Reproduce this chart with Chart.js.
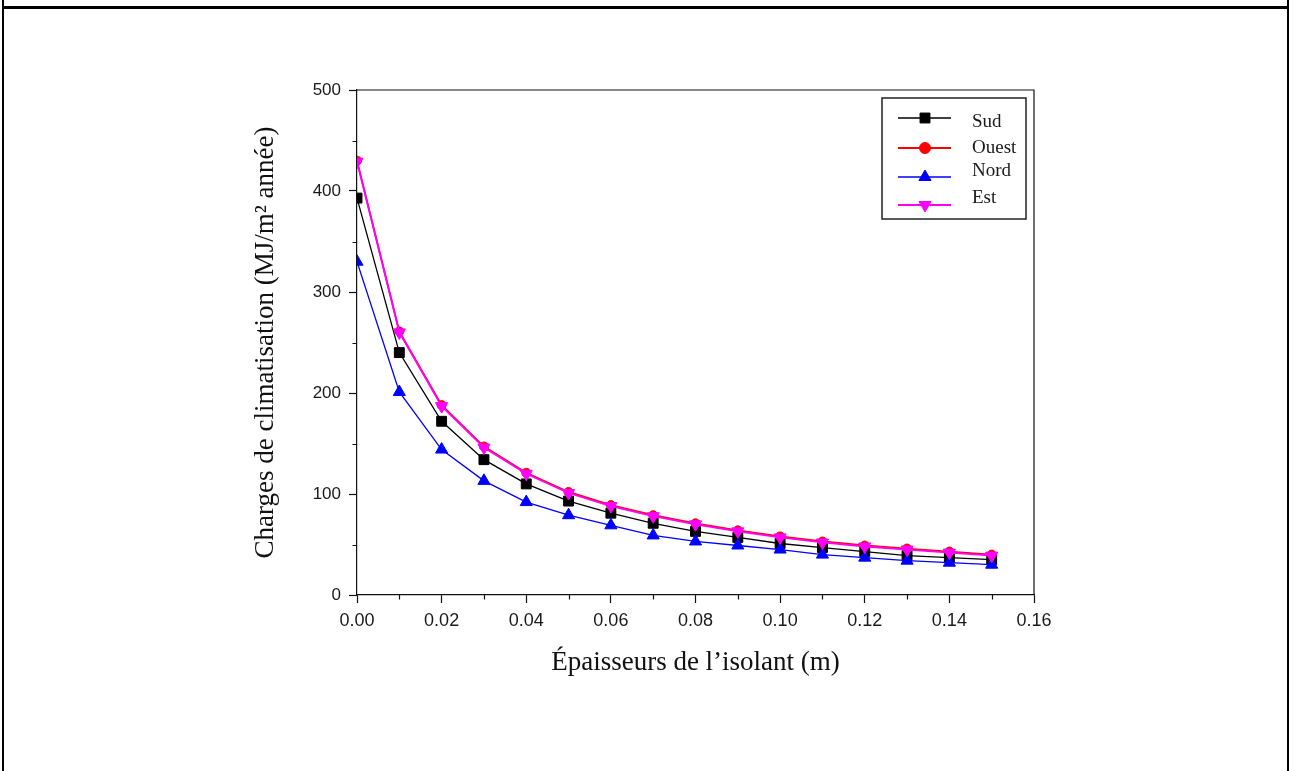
<!DOCTYPE html>
<html>
<head>
<meta charset="utf-8">
<script src="https://cdn.jsdelivr.net/npm/chart.js@4/dist/chart.umd.min.js"></script>
<style>
  html, body { margin: 0; padding: 0; background: #fff; }
  body { width: 1295px; height: 771px; position: relative; overflow: hidden; }
  #wrap { position: absolute; left: 0; top: 0; width: 1295px; height: 771px; }
  .rule { position: absolute; background: #000; }
</style>
</head>
<body>
<div class="rule" style="left:2px; top:0; width:2px; height:771px;"></div>
<div class="rule" style="left:1287px; top:0; width:2px; height:771px;"></div>
<div class="rule" style="left:2px; top:6px; width:1287px; height:3px;"></div>
<div id="wrap"><canvas id="chart" width="1295" height="771"></canvas></div>
<script>
// Insulation thickness (m)
const epaisseurs = [0.00, 0.01, 0.02, 0.03, 0.04, 0.05, 0.06, 0.07, 0.08, 0.09, 0.10, 0.11, 0.12, 0.13, 0.14, 0.15];
// Cooling loads per orientation (MJ/m² année)
const sud   = [393, 240, 172, 134, 110, 93, 81, 71, 63, 57, 51, 47, 43, 39, 37, 35];
const ouest = [430, 261, 188, 147, 121, 102, 89, 79, 71, 64, 58, 53, 49, 46, 43, 40];
const nord  = [330, 201, 144, 113, 92, 79, 69, 59, 53, 49, 45, 40, 37, 34, 32, 30];
const est   = [429, 260, 187, 146, 120, 101, 88, 78, 70, 63, 57, 52, 48, 45, 42, 39];
// Axis ticks
const yTicksMajor = [0, 100, 200, 300, 400, 500];
const xTicksMajor = [0.00, 0.02, 0.04, 0.06, 0.08, 0.10, 0.12, 0.14, 0.16];
const yTicksMinor = [50, 150, 250, 350, 450];
const xTicksMinor = [0.01, 0.03, 0.05, 0.07, 0.09, 0.11, 0.13, 0.15];

const toPoints = arr => epaisseurs.map((x, i) => ({ x: x, y: arr[i] }));

// order: lower values are painted last (on top)
const series = [
  { label: 'Sud',   data: sud,   color: '#000000', style: 'rect',     rotation: 0,   radius: 7,   width: 1.3, order: 3 },
  { label: 'Ouest', data: ouest, color: '#ff0000', style: 'circle',   rotation: 0,   radius: 4.5, width: 1.8, order: 2 },
  { label: 'Nord',  data: nord,  color: '#0000ff', style: 'triangle', rotation: 0,   radius: 7,   width: 1.3, order: 1 },
  { label: 'Est',   data: est,   color: '#ff00ff', style: 'triangle', rotation: 180, radius: 7,   width: 1.8, order: 0 }
];

function drawMarker(ctx, style, rotation, radius, x, y, color) {
  ctx.save();
  ctx.fillStyle = color;
  ctx.strokeStyle = color;
  ctx.lineWidth = 1;
  if (Chart.helpers && Chart.helpers.drawPoint) {
    Chart.helpers.drawPoint(ctx, { pointStyle: style, rotation: rotation, radius: radius, borderWidth: 1 }, x, y);
  } else {
    ctx.beginPath();
    ctx.arc(x, y, radius, 0, Math.PI * 2);
    ctx.fill();
  }
  ctx.restore();
}

// Plot frame, minor ticks and the boxed legend
const decorations = {
  id: 'decorations',
  afterDraw(chart) {
    const ctx = chart.ctx;
    const area = chart.chartArea;
    const xs = chart.scales.x, ys = chart.scales.y;
    ctx.save();
    ctx.strokeStyle = '#111';
    ctx.lineWidth = 1.2;
    // top and right edges of the frame
    ctx.beginPath();
    ctx.moveTo(area.left, area.top);
    ctx.lineTo(area.right, area.top);
    ctx.lineTo(area.right, area.bottom);
    ctx.stroke();
    // minor ticks
    ctx.beginPath();
    yTicksMinor.forEach(v => {
      const py = Math.round(ys.getPixelForValue(v)) + 0.5;
      ctx.moveTo(area.left - 4.5, py);
      ctx.lineTo(area.left, py);
    });
    xTicksMinor.forEach(v => {
      const px = Math.round(xs.getPixelForValue(v)) + 0.5;
      ctx.moveTo(px, area.bottom);
      ctx.lineTo(px, area.bottom + 4.5);
    });
    ctx.stroke();

    // legend
    const box = { left: 882, top: 98, right: 1026, bottom: 219 };
    ctx.fillStyle = '#fff';
    ctx.fillRect(box.left, box.top, box.right - box.left, box.bottom - box.top);
    ctx.strokeStyle = '#222';
    ctx.lineWidth = 1.5;
    ctx.strokeRect(box.left, box.top, box.right - box.left, box.bottom - box.top);
    const lineRows = [118, 148, 177, 205];
    const textRows = [122, 148, 171, 198];
    chart.data.datasets.forEach((ds, i) => {
      const ly = lineRows[i];
      ctx.strokeStyle = ds.borderColor;
      ctx.lineWidth = ds.borderWidth;
      ctx.beginPath();
      ctx.moveTo(898, ly);
      ctx.lineTo(951, ly);
      ctx.stroke();
      const r = ds.pointStyle === 'circle' ? 5.5 : ds.pointRadius;
      drawMarker(ctx, ds.pointStyle, ds.pointRotation, r, 925, ly, ds.pointBackgroundColor);
      ctx.fillStyle = '#1a1a1a';
      ctx.font = '19px "Liberation Serif", "Times New Roman", serif';
      ctx.textAlign = 'left';
      ctx.textBaseline = 'middle';
      ctx.fillText(ds.label, 972, textRows[i]);
    });
    ctx.restore();
  }
};

new Chart(document.getElementById('chart'), {
  type: 'line',
  data: {
    datasets: series.map(s => ({
      label: s.label,
      data: toPoints(s.data),
      borderColor: s.color,
      backgroundColor: s.color,
      pointBackgroundColor: s.color,
      pointBorderColor: s.color,
      pointStyle: s.style,
      pointRotation: s.rotation,
      pointRadius: s.radius,
      pointBorderWidth: 1,
      borderWidth: s.width,
      tension: 0,
      fill: false,
      order: s.order
    }))
  },
  plugins: [decorations],
  options: {
    responsive: false,
    animation: false,
    devicePixelRatio: 1,
    events: [],
    layout: { padding: { left: 246, right: 261, top: 90, bottom: 88 } },
    plugins: { legend: { display: false }, tooltip: { enabled: false } },
    scales: {
      x: {
        type: 'linear',
        min: 0,
        max: 0.16,
        afterFit: s => { s.height = 88; },
        afterBuildTicks: s => { s.ticks = xTicksMajor.map(v => ({ value: v })); },
        grid: { drawOnChartArea: false, drawTicks: true, tickLength: 8, tickColor: '#111', tickWidth: 1.2 },
        border: { color: '#111', width: 1.2 },
        ticks: {
          padding: 7,
          color: '#1a1a1a',
          maxRotation: 0,
          autoSkip: false,
          font: { family: '"Liberation Sans", Arial, sans-serif', size: 18 },
          callback: v => Number(v).toFixed(2)
        },
        title: {
          display: true,
          text: 'Épaisseurs de l\u2019isolant (m)',
          color: '#111',
          padding: 4,
          font: { family: '"Liberation Serif", "Times New Roman", serif', size: 27 }
        }
      },
      y: {
        type: 'linear',
        min: 0,
        max: 500,
        afterFit: s => { s.width = 357 - 246; },
        afterBuildTicks: s => { s.ticks = yTicksMajor.map(v => ({ value: v })); },
        grid: { drawOnChartArea: false, drawTicks: true, tickLength: 8, tickColor: '#111', tickWidth: 1.2 },
        border: { color: '#111', width: 1.2 },
        ticks: {
          padding: 8,
          color: '#1a1a1a',
          autoSkip: false,
          font: { family: '"Liberation Sans", Arial, sans-serif', size: 17 },
          callback: v => String(v)
        },
        title: {
          display: true,
          text: 'Charges de climatisation (MJ/m² année)',
          color: '#111',
          padding: 4,
          font: { family: '"Liberation Serif", "Times New Roman", serif', size: 27 }
        }
      }
    }
  }
});
</script>
</body>
</html>
